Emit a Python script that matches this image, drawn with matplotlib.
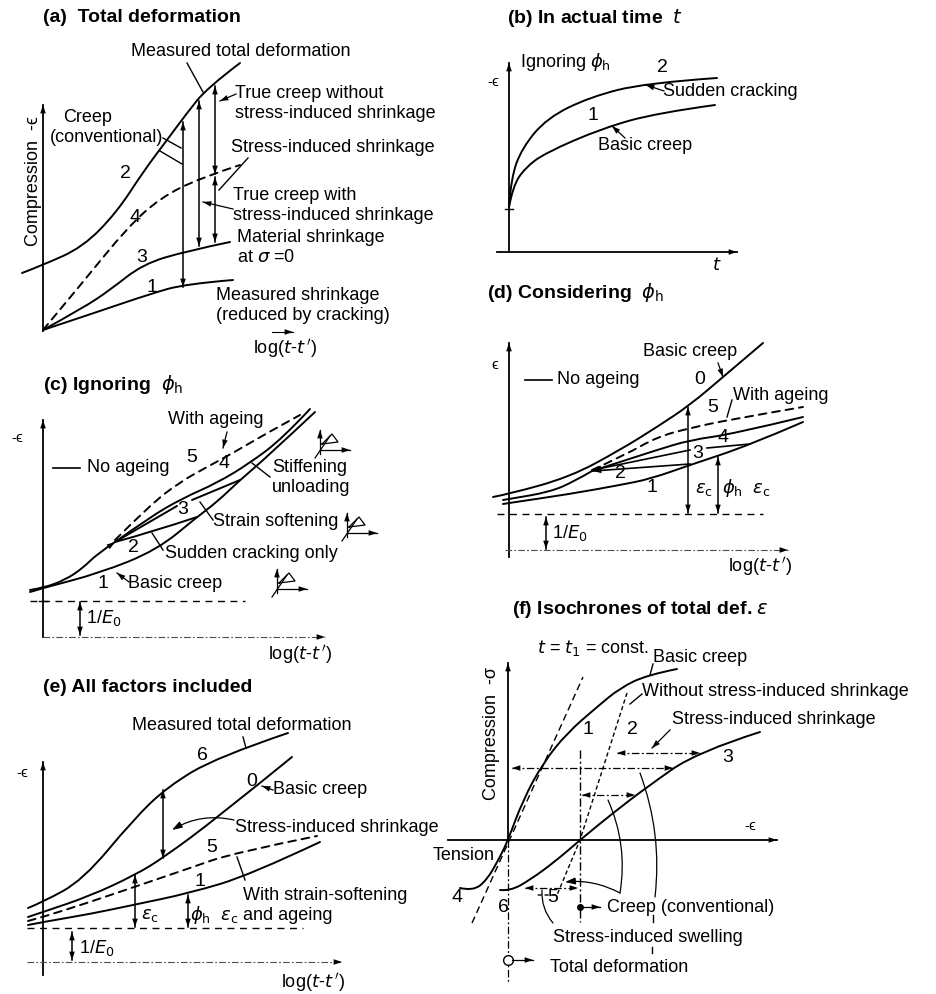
import numpy as np
import matplotlib.pyplot as plt
from matplotlib.path import Path
from matplotlib.patches import PathPatch

plt.rcParams['font.family'] = ['Liberation Sans', 'DejaVu Sans']
plt.rcParams['mathtext.fontset'] = 'dejavusans'

# sketch coordinates in pixels (x right, y down) of a 936 x 994 sheet

# (a) total deformation
a_total = [(22, 273), (43, 265), (83, 247), (117, 212), (143, 172), (167, 140), (187, 113), (207, 88), (240, 63)]
a_material = [(43, 330), (83, 308), (110, 290), (143, 264), (187, 251), (230, 242)]
a_measured_shr = [(43, 330), (100, 311), (150, 294), (185, 284), (233, 280)]
a_stress_shr = [(43, 330), (83, 282), (127, 228), (160, 198), (200, 178), (240, 165)]
a_arrows = [((183, 122), (183, 287)), ((199, 101), (199, 246)), ((215, 86), (215, 174)), ((215, 177), (215, 242))]
a_numbers = [('2', 125, 173), ('4', 135, 218), ('3', 142, 257), ('1', 152, 288)]

# (b) in actual time
b_cracking = [(509, 207), (511, 178), (522, 148), (547, 118), (590, 97), (645, 83), (717, 78)]
b_basic = [(509, 207), (513, 186), (525, 168), (545, 153), (603, 128), (657, 113), (715, 105)]
b_numbers = [('2', 662, 68), ('1', 593, 115)]

# (c) ignoring phi_h
c_basic = [(30, 592), (43, 588), (100, 573), (157, 550), (197, 517), (217, 502), (240, 480), (267, 457), (315, 412)]
c_loaded = [(30, 590), (43, 588), (65, 580), (83, 568), (97, 554), (115, 542)]
c_sudden = [(115, 542), (152, 532), (197, 517)]
c_soft_a = [(115, 542), (177, 506)]
c_soft_b = [(192, 500), (240, 480)]
c_noage = [(115, 542), (150, 517), (183, 498), (217, 483), (250, 463), (283, 438), (310, 409)]
c_ageing = [(115, 540), (150, 505), (180, 482), (207, 467), (233, 453), (267, 433), (300, 415)]
c_numbers = [('5', 192, 458), ('4', 224, 464), ('3', 183, 510), ('2', 133, 547), ('1', 103, 583)]

# (d) considering phi_h
d_basic = [(493, 497), (509, 494), (570, 477), (620, 450), (657, 427), (690, 405), (723, 377), (763, 343)]
d_lower = [(503, 504), (509, 503), (570, 494), (620, 485), (650, 479), (690, 465), (750, 445), (803, 422)]
d_loaded = [(503, 500), (509, 499), (550, 492), (575, 481), (592, 471)]
d_noage = [(592, 471), (620, 462), (657, 450), (690, 440), (733, 434), (803, 417)]
d_ageing = [(592, 470), (625, 455), (657, 437), (690, 428), (733, 419), (803, 407)]
d_numbers = [('0', 700, 380), ('5', 713, 408), ('4', 723, 437), ('3', 698, 453), ('2', 620, 473), ('1', 652, 488)]

# (e) all factors included
e_total = [(28, 908), (43, 902), (83, 880), (133, 820), (167, 787), (217, 757), (288, 733)]
e_basic = [(28, 917), (43, 912), (90, 896), (135, 875), (163, 858), (217, 818), (292, 757)]
e_softening = [(28, 921), (43, 917), (90, 902), (140, 885), (190, 868), (233, 853), (317, 836)]
e_lower = [(28, 925), (43, 922), (90, 914), (133, 905), (190, 893), (250, 875), (320, 842)]
e_numbers = [('6', 202, 755), ('0', 252, 782), ('5', 212, 847), ('1', 200, 882)]

# (f) isochrones
f_basic = [(460, 888), (473, 891), (487, 880), (500, 857), (508, 840), (523, 800), (543, 763), (567, 733),
           (597, 707), (620, 688), (647, 675), (677, 669)]
f_shrinkage = [(500, 890), (510, 891), (530, 880), (557, 860), (580, 840), (613, 813), (647, 787), (697, 752), (760, 732)]
f_elastic = [(472, 923), (583, 677)]
f_without = [(627, 693), (580, 840), (557, 895), (537, 895)]
f_harrows = [((512, 768), (673, 768)), ((617, 753), (700, 753)), ((582, 795), (635, 795)), ((525, 888), (578, 888))]
f_numbers = [('1', 588, 730), ('2', 632, 730), ('3', 728, 758), ('4', 457, 897), ('6', 503, 907), ('5', 553, 898)]

LW = 1.4
FS = 13
FS_NUM = 14
FS_TITLE = 14
DASH = (0, (4, 3))
DASHDOT = (0, (6, 2, 1.5, 2))
EPS = 'ϵ'

fig = plt.figure(figsize=(9.36, 9.94), dpi=100)
ax = fig.add_axes([0, 0, 1, 1])
ax.set_xlim(0, 936)
ax.set_ylim(994, 0)
ax.axis('off')


def curve(pts, ls='-', lw=LW):
    pts = np.asarray(pts, float)
    if len(pts) < 3:
        ax.plot(pts[:, 0], pts[:, 1], color='k', lw=lw, ls=ls, solid_capstyle='round')
        return
    verts = [pts[0]]
    codes = [Path.MOVETO]
    for i in range(1, len(pts) - 1):
        end = (pts[i] + pts[i + 1]) / 2 if i < len(pts) - 2 else pts[i + 1]
        verts += [pts[i], end]
        codes += [Path.CURVE3, Path.CURVE3]
    ax.add_patch(PathPatch(Path(verts, codes), fill=False, ec='k', lw=lw, ls=ls, capstyle='round'))


def head(p0, p1):
    # small filled arrow head at p1, pointing from p0
    ax.annotate('', xy=p1, xytext=p0,
                arrowprops=dict(arrowstyle='-|>,head_length=0.6,head_width=0.2', lw=0.01, color='k',
                                shrinkA=0, shrinkB=0))


def arrow(p0, p1, both=False, ls='-', lw=1.1, color='k'):
    p0 = np.asarray(p0, float)
    p1 = np.asarray(p1, float)
    ax.plot([p0[0], p1[0]], [p0[1], p1[1]], color=color, lw=lw, ls=ls)
    d = (p1 - p0) / np.hypot(*(p1 - p0))
    head(p1 - 3 * d, p1)
    if both:
        head(p0 + 3 * d, p0)


def line(p0, p1, ls='-', lw=1.0, color='k'):
    ax.plot([p0[0], p1[0]], [p0[1], p1[1]], color=color, lw=lw, ls=ls)


def label(x, y, s, size=FS, **kw):
    kw.setdefault('ha', 'left')
    kw.setdefault('va', 'center')
    ax.text(x, y, s, fontsize=size, **kw)


def numbers(items):
    for s, x, y in items:
        ax.text(x, y, s, fontsize=FS_NUM, ha='center', va='center')


def title(x, y, s):
    ax.text(x, y, s, fontsize=FS_TITLE, fontweight='bold', ha='left', va='center')


LOG = r"log($t$-$t\,'$)"

# ---------------- (a) ----------------
title(43, 17, '(a)  Total deformation')
arrow((43, 331), (43, 105), lw=1.3)
ax.text(34, 181, 'Compression  -' + EPS, rotation=90, fontsize=FS, ha='center', va='center')
arrow((272, 332), (293, 332), lw=0.8)
label(285, 349, LOG, ha='center')
curve(a_total)
curve(a_material)
curve(a_measured_shr)
curve(a_stress_shr, ls=DASH)
for p0, p1 in a_arrows:
    arrow(p0, p1, both=True)
numbers(a_numbers)
label(131, 52, 'Measured total deformation')
line((187, 63), (203, 92))
label(235, 93, 'True creep without')
label(235, 113, 'stress-induced shrinkage')
arrow((236, 94), (220, 101), lw=0.9)
label(231, 148, 'Stress-induced shrinkage')
line((248, 158), (219, 190))
label(233, 195, 'True creep with')
label(233, 215, 'stress-induced shrinkage')
arrow((233, 209), (203, 202), lw=0.9)
label(237, 238, 'Material shrinkage')
label(237, 257, r'at $\sigma$ =0')
label(216, 296, 'Measured shrinkage')
label(216, 315, '(reduced by cracking)')
label(63, 117, 'Creep')
label(50, 137, '(conventional)')
line((163, 138), (181, 148))
line((160, 151), (182, 164))

# ---------------- (b) ----------------
title(507, 18, r'(b) In actual time  $t$')
arrow((509, 252), (509, 63), lw=1.3)
arrow((497, 252), (737, 252), lw=1.3)
line((505, 209), (513, 209))
label(493, 82, '-' + EPS, ha='center', size=11)
label(717, 266, r'$t$', ha='center')
label(520, 62, r'Ignoring $\phi_\mathrm{h}$')
curve(b_cracking)
curve(b_basic)
numbers(b_numbers)
label(663, 92, 'Sudden cracking')
arrow((664, 91), (646, 85), lw=0.9)
label(598, 145, 'Basic creep')
arrow((625, 138), (612, 126), lw=0.9)

# ---------------- (c) ----------------
title(43, 385, r'(c) Ignoring  $\phi_\mathrm{h}$')
arrow((43, 637), (43, 420), lw=1.3)
arrow((43, 637), (325, 637), ls=DASHDOT, lw=0.8, color='0.3')
label(17, 438, '-' + EPS, ha='center', size=11)
line((53, 468), (80, 468), lw=1.2)
label(87, 468, 'No ageing')
line((30, 601), (245, 601), ls=(0, (5, 4)), lw=1.0)
line((39, 601), (47, 601))
arrow((80, 602), (80, 635), both=True)
label(86, 618, r'1/$E_\mathrm{0}$')
label(300, 655, LOG, ha='center')
curve(c_basic)
curve(c_loaded)
curve(c_sudden)
curve(c_soft_a)
curve(c_soft_b)
curve(c_noage)
curve(c_ageing, ls=DASH)
head((108, 547), (115, 542))
numbers(c_numbers)
label(168, 420, 'With ageing')
arrow((227, 432), (223, 448), lw=0.9)
label(272, 468, 'Stiffening')
label(272, 488, 'unloading')
line((270, 477), (252, 463))
label(213, 522, 'Strain softening')
line((213, 520), (200, 502))
label(165, 553, 'Sudden cracking only')
line((163, 550), (152, 533))
label(128, 583, 'Basic creep')
arrow((129, 582), (117, 573), lw=0.9)
# little stress-strain glyphs
for gx, gy in [(320, 450), (347, 533), (277, 589)]:
    arrow((gx, gy + 4), (gx, gy - 20), lw=0.9)
    arrow((gx, gy), (gx + 30, gy), lw=0.9)
    line((gx - 5, gy + 8), (gx + 10, gy - 14), lw=0.9)
    ax.plot([gx + 2, gx + 12, gx + 18, gx + 2], [gy - 6, gy - 16, gy - 8, gy - 6], color='k', lw=0.9)

# ---------------- (d) ----------------
title(487, 293, r'(d) Considering  $\phi_\mathrm{h}$')
arrow((509, 557), (509, 343), lw=1.3)
arrow((505, 550), (788, 550), ls=DASHDOT, lw=0.8, color='0.3')
label(495, 365, EPS, ha='center', size=11)
line((525, 380), (552, 380), lw=1.2)
label(557, 380, 'No ageing')
curve(d_basic)
curve(d_lower)
curve(d_loaded)
curve(d_noage)
curve(d_ageing, ls=DASH)
arrow((690, 464), (593, 471), lw=1.2)
arrow((690, 450), (593, 470), lw=1.2)
line((707, 448), (750, 444), lw=1.2)
numbers(d_numbers)
label(643, 352, 'Basic creep')
arrow((718, 363), (723, 377), lw=0.9)
label(733, 395, 'With ageing')
line((732, 400), (727, 417))
line((497, 514), (763, 514), ls=(0, (5, 4)), lw=1.0)
arrow((688, 407), (688, 513), both=True)
arrow((718, 457), (718, 513), both=True)
label(695, 490, r'$\epsilon_\mathrm{c}$')
label(722, 488, r'$\phi_\mathrm{h}$  $\epsilon_\mathrm{c}$')
arrow((546, 517), (546, 549), both=True)
label(552, 533, r'1/$E_\mathrm{0}$')
label(760, 567, LOG, ha='center')

# ---------------- (e) ----------------
title(43, 687, '(e) All factors included')
arrow((43, 975), (43, 762), lw=1.3)
arrow((27, 962), (342, 962), ls=DASHDOT, lw=0.8, color='0.3')
label(22, 773, '-' + EPS, ha='center', size=11)
curve(e_total)
curve(e_basic)
curve(e_softening, ls=DASH)
curve(e_lower)
numbers(e_numbers)
label(132, 725, 'Measured total deformation')
line((243, 737), (246, 748))
label(273, 790, 'Basic creep')
arrow((273, 790), (262, 786), lw=0.9)
label(235, 828, 'Stress-induced shrinkage')
ax.annotate('', xy=(172, 830), xytext=(234, 820),
            arrowprops=dict(arrowstyle='-|>,head_length=0.6,head_width=0.2', lw=0.9, color='k',
                            shrinkA=0, shrinkB=0, connectionstyle='arc3,rad=0.2'))
label(243, 895, 'With strain-softening')
label(243, 915, 'and ageing')
line((245, 880), (237, 857))
arrow((163, 790), (163, 858), both=True)
line((27, 928), (303, 928), ls=(0, (5, 4)), lw=1.0)
arrow((135, 875), (135, 927), both=True)
arrow((188, 895), (188, 927), both=True)
label(141, 915, r'$\epsilon_\mathrm{c}$')
label(190, 915, r'$\phi_\mathrm{h}$  $\epsilon_\mathrm{c}$')
arrow((72, 932), (72, 960), both=True)
label(79, 948, r'1/$E_\mathrm{0}$')
label(313, 982, LOG, ha='center')

# ---------------- (f) ----------------
title(512, 610, r'(f) Isochrones of total def. $\epsilon$')
arrow((508, 840), (508, 663), lw=1.3)
line((508, 840), (508, 982), ls=DASHDOT, lw=0.9)
arrow((448, 840), (777, 840), lw=1.3)
ax.text(492, 733, 'Compression  -σ', rotation=90, fontsize=FS, ha='center', va='center')
label(433, 856, 'Tension')
label(750, 826, '-' + EPS, ha='center', size=11)
label(537, 648, r'$t$ = $t_1$ = const.')
curve(f_basic)
curve(f_shrinkage)
curve(f_elastic, ls=(0, (5, 3)), lw=1.0)
ax.plot([p[0] for p in f_without], [p[1] for p in f_without], color='k', lw=1.0, ls=(0, (3, 2)))
line((580, 750), (580, 922), ls=DASHDOT, lw=1.0)
for p0, p1 in f_harrows:
    arrow(p0, p1, both=True, ls=DASHDOT, lw=0.9)
numbers(f_numbers)
label(653, 657, 'Basic creep')
line((653, 664), (650, 675))
label(642, 692, 'Without stress-induced shrinkage')
line((642, 694), (630, 704))
label(672, 720, 'Stress-induced shrinkage')
arrow((670, 730), (652, 748), lw=0.9)
ax.annotate('', xy=(620, 893), xytext=(608, 800),
            arrowprops=dict(arrowstyle='-', lw=0.9, color='k', shrinkA=0, shrinkB=0,
                            connectionstyle='arc3,rad=-0.15'))
ax.annotate('', xy=(565, 882), xytext=(620, 893),
            arrowprops=dict(arrowstyle='-|>,head_length=0.6,head_width=0.2', lw=0.9, color='k',
                            shrinkA=0, shrinkB=0, connectionstyle='arc3,rad=0.15'))
ax.annotate('', xy=(655, 897), xytext=(640, 773),
            arrowprops=dict(arrowstyle='-', lw=0.9, color='k', shrinkA=0, shrinkB=0,
                            connectionstyle='arc3,rad=-0.12'))
ax.annotate('', xy=(542, 890), xytext=(553, 923),
            arrowprops=dict(arrowstyle='-', lw=0.9, color='k', shrinkA=0, shrinkB=0,
                            connectionstyle='arc3,rad=-0.2'))
ax.plot([580], [907], 'o', color='k', ms=4)
arrow((582, 907), (600, 907), lw=0.9)
label(607, 908, 'Creep (conventional)')
line((653, 915), (653, 922))
label(553, 937, 'Stress-induced swelling')
line((652, 947), (652, 953))
ax.plot([508], [960], 'o', mfc='white', mec='k', ms=7, mew=1.0)
arrow((512, 960), (533, 960), lw=0.9)
label(550, 968, 'Total deformation')

fig.savefig('out.png', dpi=100)
